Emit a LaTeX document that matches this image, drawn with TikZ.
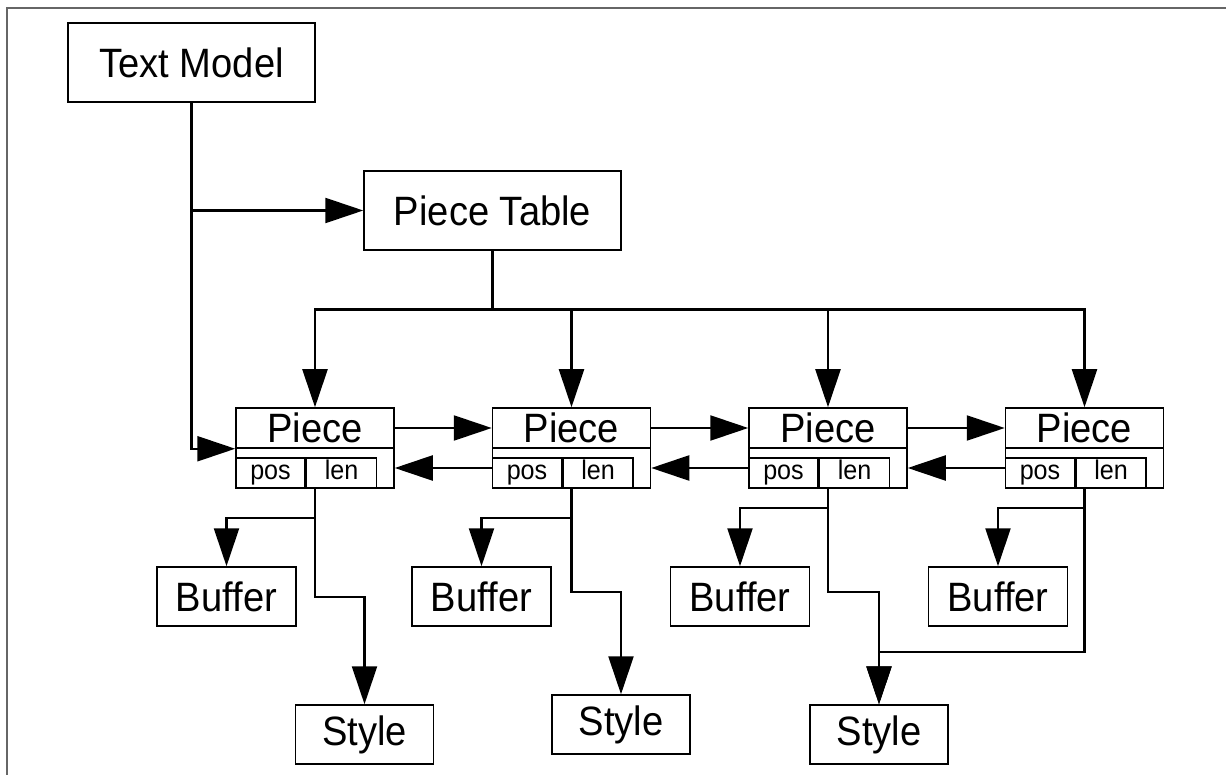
\documentclass[tikz,border=0pt]{standalone}
\usepackage{fontspec}
\setmainfont[FakeStretch=0.93]{Liberation Sans}
\usepackage{tikz}
\usetikzlibrary{positioning}
\usetikzlibrary{arrows.meta}

\begin{document}
\begin{tikzpicture}[x=1pt,y=-1pt]

 \tikzset{plain box/.style={
 		draw, line width=1.5pt,
 		minimum width=#1, minimum height=59pt,
 		inner sep=0pt, anchor=center,
 		font=\fontsize{41}{43}\selectfont
 	},
 	plain box/.default=138pt,
 	field/.style={
 		draw, line width=1.5pt,
 		minimum width=#1, minimum height=30pt,
 		text height=19pt, text depth=6pt,
 		inner sep=0pt,
 		font=\fontsize{27}{29}\selectfont
 	},
 	link/.style={line width=2.3pt, -{Triangle[length=38pt,width=25pt]}}
 }

 \useasboundingbox (0,0) rectangle (1226,775);
 \draw[black!60, line width=2pt] (1226,8) -- (7,8) -- (7,775);

 \node[plain box=247pt, minimum height=79pt] (tm) at (191.5,62.5) {Text Model};
 \node[plain box=257pt, minimum height=79pt] (pt) at (492.5,210.5) {Piece Table};

 \foreach \i/\x in {1/315, 2/571.5, 3/828, 4/1084.5} {
 	\node[draw, line width=1.5pt, minimum width=158pt, minimum height=80pt] (p\i) at (\x,448) {};
 	\node[plain box=158pt, minimum height=40pt, anchor=north] (h\i) at (p\i.north) {Piece};
 	\node[field=69pt, anchor=south west] (pos\i) at (p\i.south west) {pos};
 	\node[field=70pt, right=0pt of pos\i] (len\i) {len};
 }

 \foreach \i/\x in {1/226.5, 2/481.5, 3/740, 4/998}
 	\node[plain box=139pt] (buf\i) at (\x,596.5) {Buffer};

 \node[plain box] (st1) at (364.5,734.5) {Style};
 \node[plain box] (st2) at (621,724.5) {Style};
 \node[plain box] (st3) at (879,734.5) {Style};

 \draw[link] (tm.south) |- (pt.west);
 \draw[link] (tm.south) |- (h1.south west);

 \coordinate (bus) at (492.5,309.5);
 \foreach \i in {1,...,4}
 	\draw[link] (pt.south) -- (bus) -| (h\i.north);

 \foreach \i/\j in {1/2, 2/3, 3/4} {
 	\draw[link] (h\i.east) -- (h\j.west);
 	\draw[link] ([yshift=-20pt]p\j.west) -- ([yshift=-20pt]p\i.east);
 }

 \foreach \i/\d in {1/29, 2/29, 3/19, 4/19}
 	\draw[link] (p\i.south) -- ++(0,\d) -| (buf\i.north);

 \draw[link] (p1.south) -- ++(0,108) -| (st1.north);
 \draw[link] (p2.south) -- ++(0,103) -| (st2.north);
 \draw[link] (p3.south) -- ++(0,103) -| (st3.north);
 \draw[link] (p4.south) -- ++(0,163) -| (st3.north);
\end{tikzpicture}
\end{document}
